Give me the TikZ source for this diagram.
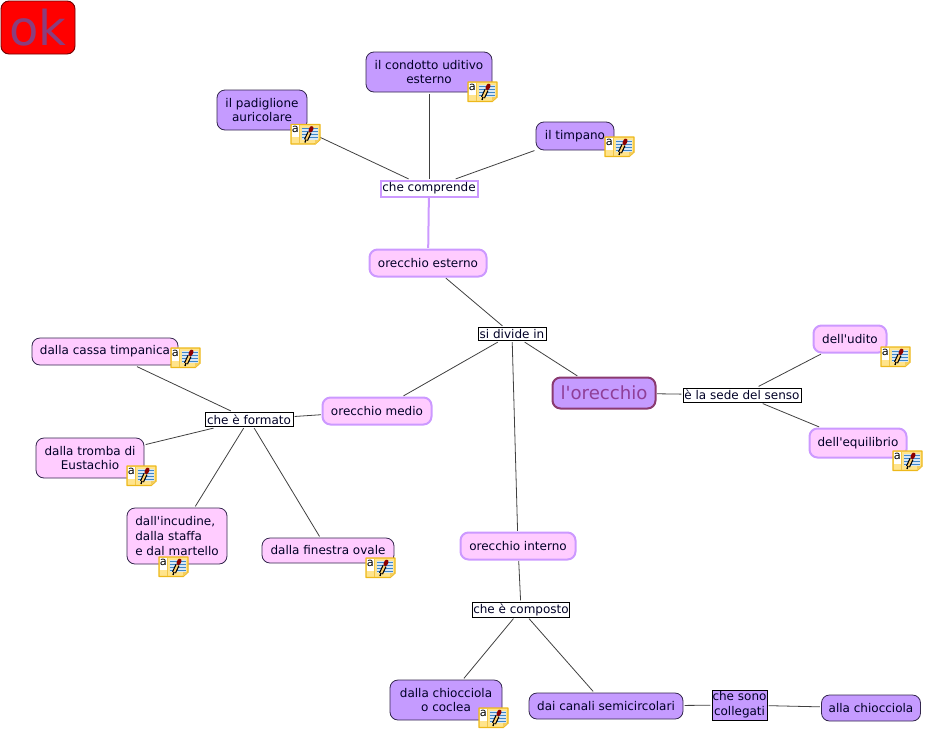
\documentclass[tikz,border=0pt]{standalone}
\usepackage{fontspec}
\setmainfont{DejaVu Sans}
\definecolor{conceptA}{HTML}{C59BFF}
\definecolor{conceptB}{HTML}{FFCCFF}
\definecolor{edgeB}{HTML}{CC99FF}
\definecolor{darkedge}{HTML}{33264D}
\definecolor{rootedge}{HTML}{8A3A70}
\definecolor{roottext}{HTML}{8F3F98}
\definecolor{notefill}{HTML}{FFE48C}
\definecolor{noteedge}{HTML}{EDB81A}
\definecolor{noteblue}{HTML}{3F86C8}
\tikzset{
  x=0.75pt,y=-0.75pt,
  box/.style n args={4}{inner sep=0pt,minimum width=#3*0.75pt,minimum height=#4*0.75pt,align=center},
  txt/.style={font=\fontsize{9}{11.2}\selectfont,text=black!85!blue,outer sep=1.2pt},
  purpleA/.style={txt,rounded corners=6pt,draw=darkedge,fill=conceptA,line width=0.6pt},
  pinkB/.style={txt,rounded corners=6pt,draw=edgeB,fill=conceptB,line width=1.5pt},
  pinkD/.style={txt,rounded corners=6pt,draw=darkedge,fill=conceptB,line width=0.6pt},
  linkbox/.style={txt,draw=black,fill=white,line width=0.6pt},
  wire/.style={draw=black!75,line width=0.6pt},
  pics/noteicon/.style={code={
    \fill[notefill,draw=noteedge,line width=1.1pt,line join=round] (0,0) -- (29,0) -- (29,15) -- (24,19.5) -- (0,19.5) -- cycle;
    \fill[noteedge!70!white] (24,19.5) -- (24,15) -- (29,15) -- cycle;
    \fill[white] (0.8,0.8) rectangle (8,12.5);
    \draw[noteedge!80!white,line width=0.4pt] (8.5,0.8) -- (8.5,19);
    \node[inner sep=0pt,font=\fontsize{8.5}{9}\selectfont,text=black] at (4.3,5.4) {a};
    \fill[noteblue!20!white] (10.5,3) rectangle (27,15);
    \foreach \yy in {4,7,10,13} \draw[noteblue,line width=0.7pt] (10.5,\yy) -- (27,\yy);
    \draw[black,line width=3.2pt] (15,15.5) -- (18.5,8);
    \draw[notefill!80!orange,line width=1.4pt] (15,15.5) -- (18.5,8);
    \draw[black,line width=1pt] (14,18) -- (15,15);
    \draw[red!55!black,line width=3pt,line cap=round] (19.5,6) -- (20.6,3.6);
  }}
}
\begin{document}
\begin{tikzpicture}
\useasboundingbox (0,0) rectangle (925,729);
\node[box={}{}{74}{53},rounded corners=6pt,fill=red,draw=red!45!black,line width=0.7pt,font=\fontsize{36}{38}\selectfont,text={rgb,255:red,138;green,62;blue,125}] (ok) at (38,27.5) {ok};
\node[purpleA,box={}{}{126}{40}] (condotto) at (429,72) {il condotto uditivo\\esterno};
\node[purpleA,box={}{}{90}{40}] (padiglione) at (262,110) {il padiglione\\auricolare};
\node[purpleA,box={}{}{78}{28}] (timpano) at (575,136) {il timpano};
\node[txt,draw=edgeB,fill=white,line width=1.5pt,box={}{}{97}{16}] (comprende) at (429,188.5) {che comprende};
\node[pinkB,box={}{}{117}{27}] (esterno) at (428,263) {orecchio esterno};
\node[linkbox,box={}{}{68}{13}] (divide) at (512,334) {si divide in};
\node[rounded corners=6pt,draw=rootedge,fill=conceptA,line width=1.5pt,box={}{}{103}{31},font=\fontsize{13.6}{16}\selectfont,text=roottext,outer sep=1.2pt] (root) at (604,393) {l\textquotesingle orecchio};
\node[linkbox,box={}{}{118}{14}] (sede) at (742,395) {è la sede del senso};
\node[pinkB,box={}{}{73}{27}] (udito) at (850,339) {dell\textquotesingle udito};
\node[pinkB,box={}{}{97}{29}] (equilibrio) at (858,443) {dell\textquotesingle equilibrio};
\node[pinkB,box={}{}{109}{27}] (medio) at (377,411) {orecchio medio};
\node[linkbox,box={}{}{88}{14}] (formato) at (249,419.5) {che è formato};
\node[pinkD,box={}{}{146}{27}] (cassa) at (105,351.5) {dalla cassa timpanica};
\node[pinkD,box={}{}{108}{40}] (tromba) at (90,458) {dalla tromba di\\Eustachio};
\node[pinkD,box={}{}{100}{56},align=left] (incudine) at (177,536) {dall\textquotesingle incudine,\\dalla staffa\\e dal martello};
\node[pinkD,box={}{}{132}{25}] (finestra) at (328,550.5) {dalla finestra ovale};
\node[pinkB,box={}{}{115}{27}] (interno) at (518,546) {orecchio interno};
\node[linkbox,box={}{}{97}{15}] (composto) at (521,609.5) {che è composto};
\node[purpleA,box={}{}{112}{40}] (chiocciola) at (446,700) {dalla chiocciola\\o coclea};
\node[purpleA,box={}{}{154}{26}] (canali) at (606,706) {dai canali semicircolari};
\node[txt,draw=black,fill=conceptA,line width=0.6pt,box={}{}{55}{30}] (sono) at (739.5,705) {che sono\\collegati};
\node[purpleA,box={}{}{99}{26}] (alla) at (871,708) {alla chiocciola};
\draw[wire] (condotto) -- (comprende);
\draw[wire] (padiglione) -- (comprende);
\draw[wire] (timpano) -- (comprende);
\draw[draw=edgeB,line width=1.5pt] (comprende) -- (esterno);
\draw[wire] (esterno) -- (divide);
\draw[wire] (divide) -- (root);
\draw[wire] (divide) -- (medio);
\draw[wire] (divide) -- (interno);
\draw[wire] (root) -- (sede);
\draw[wire] (sede) -- (udito);
\draw[wire] (sede) -- (equilibrio);
\draw[wire] (medio) -- (formato);
\draw[wire] (formato) -- (cassa);
\draw[wire] (formato) -- (tromba);
\draw[wire] (formato) -- (incudine);
\draw[wire] (formato) -- (finestra);
\draw[wire] (interno) -- (composto);
\draw[wire] (composto) -- (chiocciola);
\draw[wire] (composto) -- (canali);
\draw[wire] (canali) -- (sono);
\draw[wire] (sono) -- (alla);
\pic at (468,82) {noteicon};
\pic at (291,124.5) {noteicon};
\pic at (605,137) {noteicon};
\pic at (881,347) {noteicon};
\pic at (893,451) {noteicon};
\pic at (171,348) {noteicon};
\pic at (127,466) {noteicon};
\pic at (159,557) {noteicon};
\pic at (366,558) {noteicon};
\pic at (479,708) {noteicon};
\end{tikzpicture}
\end{document}
